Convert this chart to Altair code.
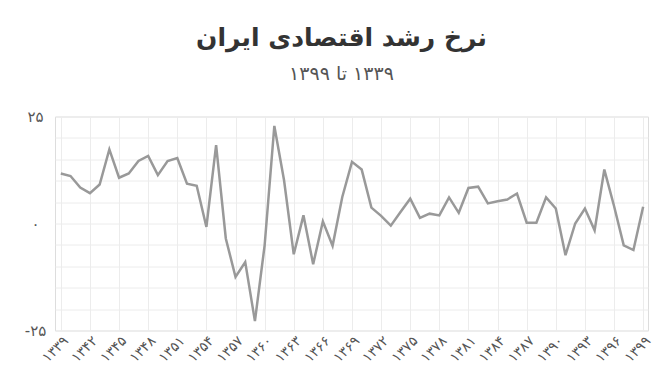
import altair as alt
import pandas as pd

years = list(range(1339, 1400))
growth = [11.7, 11.1, 8.4, 7.1, 9.1, 17.3, 10.7, 11.7, 14.6, 15.8,
          11.3, 14.6, 15.3, 9.3, 8.8, -0.8, 18.3, -3.5, -12.5, -9.0,
          -22.8, -5.1, 22.8, 10.1, -7.2, 1.9, -9.5, 0.5, -5.2, 6.2,
          14.4, 12.6, 3.7, 1.8, -0.5, 2.7, 5.8, 1.3, 2.3, 1.9,
          6.1, 2.5, 8.3, 8.6, 4.7, 5.2, 5.6, 7.0, 0.2, 0.2,
          6.1, 3.5, -7.4, 0.0, 3.5, -1.6, 12.6, 4.1, -5.1, -6.2, 3.9]
x_ticks = list(range(1339, 1400, 3))
y_grid = list(range(-25, 26, 5))
title_text = "نرخ رشد اقتصادی ایران"
subtitle_text = "\u200f۱۳۳۹ تا ۱۳۹۹"

df = pd.DataFrame({"year": years, "growth": growth})

fa_digits = "۰۱۲۳۴۵۶۷۸۹"


def fa_expr(s):
    e = s
    for i, d in enumerate(fa_digits):
        e = f"replace({e}, /{i}/g, '{d}')"
    return e


x_label = fa_expr("toString(datum.value)")
y_label = "datum.value % 25 == 0 ? " + fa_expr("toString(datum.value)") + " : ''"

FONT = "DejaVu Sans"

chart = alt.Chart(df).mark_line(color="#999999", strokeWidth=2.5).encode(
    x=alt.X("year:Q",
            scale=alt.Scale(domain=[1338.4, 1399.5], nice=False, zero=False),
            axis=alt.Axis(values=x_ticks, labelExpr=x_label, labelAngle=-45,
                          labelFontSize=14, labelColor="#555555", labelFont=FONT,
                          labelPadding=3, ticks=False, tickSize=0, domain=False,
                          gridColor="#ececec", title=None, labelOverlap=False)),
    y=alt.Y("growth:Q",
            scale=alt.Scale(domain=[-25, 25], nice=False),
            axis=alt.Axis(values=y_grid, labelExpr=y_label, labelAlign="center",
                          labelBaseline="middle",
                          labelFontSize=15, labelColor="#555555", labelFont=FONT,
                          labelPadding=20, ticks=False, tickSize=0, domain=False,
                          gridColor="#ececec", title=None, labelOverlap=False)),
).properties(
    width=593,
    height=214,
    autosize=alt.AutoSizeParams(type="none"),
    padding={"left": 55, "top": 116.5, "right": 5, "bottom": 51},
    title=alt.TitleParams(
        text=title_text, subtitle=subtitle_text,
        font=FONT, fontSize=25, fontWeight="bold", color="#333333",
        subtitleFont=FONT, subtitleFontSize=19, subtitleColor="#555555",
        anchor="middle", frame="group", offset=26, subtitlePadding=14, dx=-10),
).configure_view(stroke=None).configure(background="white")

chart.save("out.html", embed_options={"renderer": "svg", "actions": False})
